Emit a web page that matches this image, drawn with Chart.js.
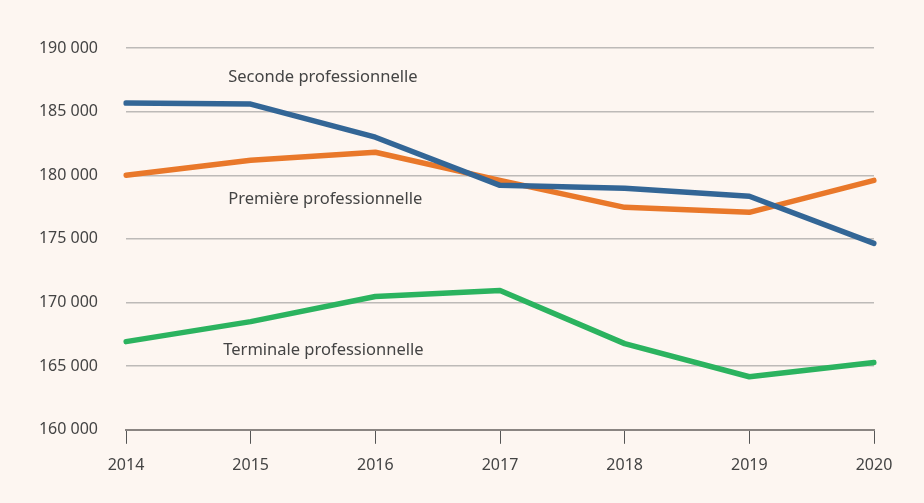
<!DOCTYPE html>
<html>
<head>
<meta charset="utf-8">
<script src="https://cdn.jsdelivr.net/npm/chart.js@4/dist/chart.umd.min.js"></script>
<style>
  html, body { margin: 0; padding: 0; background: #fdf6f1; }
  #wrap { width: 924px; height: 503px; }
</style>
</head>
<body>
<div id="wrap"><canvas id="chart"></canvas></div>
<script>
const years = ['2014', '2015', '2016', '2017', '2018', '2019', '2020'];
const seconde = [185670, 185590, 182990, 179210, 178980, 178350, 174650];
const premiere = [180000, 181180, 181810, 179600, 177480, 177090, 179600];
const terminale = [166930, 168500, 170470, 170950, 166770, 164170, 165280];
const seriesNames = ['Seconde professionnelle', 'Première professionnelle', 'Terminale professionnelle'];
// where each name sits: [category index, value]
const labelAnchors = [[0.82, 187700], [0.82, 178100], [0.78, 166250]];

// french thousands separator
const fmt = v => String(v).replace(/\B(?=(\d{3})+(?!\d))/g, ' ');

const lineLabels = {
  id: 'lineLabels',
  afterDatasetsDraw(chart) {
    const {ctx, scales: {x, y}} = chart;
    ctx.save();
    ctx.font = '16.5px "Noto Sans"';
    ctx.fillStyle = '#444';
    ctx.textBaseline = 'middle';
    ctx.textAlign = 'left';
    seriesNames.forEach((name, i) => {
      const [xi, yv] = labelAnchors[i];
      ctx.fillText(name, x.getPixelForValue(xi), y.getPixelForValue(yv));
    });
    ctx.restore();
  }
};

new Chart(document.getElementById('chart').getContext('2d'), {
  type: 'line',
  data: {
    labels: years,
    datasets: [
      { label: seriesNames[0], data: seconde, borderColor: '#336696' },
      { label: seriesNames[1], data: premiere, borderColor: '#e9782a' },
      { label: seriesNames[2], data: terminale, borderColor: '#2bb35f' },
    ].map(d => Object.assign(d, {
      borderWidth: 5.5,
      pointRadius: 0,
      tension: 0,
      fill: false,
      borderCapStyle: 'round',
      borderJoinStyle: 'round',
    })),
  },
  options: {
    responsive: true,
    maintainAspectRatio: false,
    animation: false,
    layout: { padding: { top: 48, right: 50, left: 40, bottom: 16 } },
    plugins: {
      legend: { display: false },
      tooltip: { enabled: false },
    },
    scales: {
      x: {
        offset: false,
        grid: {
          drawOnChartArea: false,
          drawTicks: true,
          tickLength: 14,
          color: '#555',
        },
        border: { color: '#8a8582', width: 2 },
        ticks: {
          color: '#444',
          font: { family: 'Noto Sans', size: 16 },
          padding: 12,
          maxRotation: 0,
        },
      },
      y: {
        min: 160000,
        max: 190000,
        afterFit: s => { s.width = 86; },
        grid: { color: '#bdbab8', drawTicks: false, lineWidth: 1.5 },
        border: { display: false },
        ticks: {
          stepSize: 5000,
          color: '#444',
          font: { family: 'Noto Sans', size: 16 },
          padding: 28,
          callback: v => fmt(v),
        },
      },
    },
  },
  plugins: [lineLabels],
});
</script>
</body>
</html>
